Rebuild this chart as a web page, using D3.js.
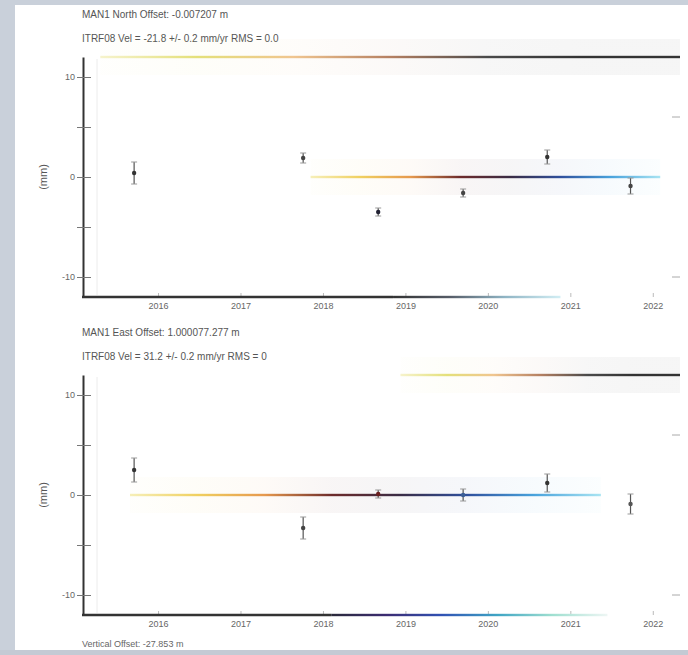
<!DOCTYPE html>
<html>
<head>
<meta charset="utf-8">
<script src="https://cdn.jsdelivr.net/npm/d3@7"></script>
<style>
  html, body { margin: 0; padding: 0; background: #c9d0da; }
  svg { display: block; }
  text { font-family: "Liberation Sans", Arial, sans-serif; }
</style>
</head>
<body>
<svg id="chart" width="688" height="655"></svg>
<script>
// Campaign epochs (decimal year) and daily-solution offsets
const epochs = [2015.71, 2017.76, 2018.67, 2019.70, 2020.72, 2021.73];
const northMm = [0.4, 1.9, -3.5, -1.6, 2.0, -0.9];
const northErr = [1.1, 0.5, 0.4, 0.4, 0.7, 0.8];
const eastMm = [2.5, -3.3, 0.1, 0.0, 1.2, -0.9];
const eastErr = [1.2, 1.1, 0.4, 0.6, 0.9, 1.0];
const northMarkerColors = ["#333", "#444", "#223", "#444", "#333", "#444"];
const eastMarkerColors = ["#333", "#444", "#6a1e1e", "#3c5f96", "#333", "#555"];

const yearTicks = [2016, 2017, 2018, 2019, 2020, 2021, 2022];
const yearLabels = ["2016", "2017", "2018", "2019", "2020", "2021", "2022"];
const mmTicks = [-10, -5, 0, 5, 10];
const mmLabels = ["-10", "", "0", "", "10"];

const northTitle = ["MAN1  North Offset:  -0.007207 m",
                    "ITRF08 Vel =  -21.8  +/-  0.2 mm/yr   RMS =  0.0"];
const eastTitle = ["MAN1  East Offset:  1.000077.277 m",
                   "ITRF08 Vel =  31.2  +/-  0.2 mm/yr   RMS =  0"];
const upTitle = "Vertical Offset:  -27.853 m";

// colour-ramped reference lines: [startYear, endYear, mm]
const northFrame = [2015.30, 2022.33, 12];
const northTrend = [2017.85, 2022.09, 0];
const northBase = [2018.85, 2020.88, -12];
const eastFrame = [2018.94, 2022.33, 12];
const eastTrend = [2015.66, 2021.37, 0];
const eastBase = [2018.10, 2021.45, -12];

const frameRamp = ["#f6f3cc", "#e4e07a", "#f0c590", "#b58062", "#4a4a4a", "#333333", "#333333"];
const trendRamp = ["#f6efb8", "#f0d060", "#e6994e", "#6d2b2b", "#3a2c44", "#2f4f9c", "#48a2dc", "#a8e4f2"];
const northBaseRamp = ["#333333", "#555b66", "#8fb4c4", "#d2eef4"];
const eastBaseRamp = ["#2a2a3a", "#3c2c72", "#3152b4", "#3ea4c4", "#9fdfd0", "#eef6f4"];

const svg = d3.select("#chart");
const defs = svg.append("defs");

// page area
svg.append("rect").attr("x", 15).attr("y", 5).attr("width", 673).attr("height", 645)
  .attr("fill", "#ffffff");

const x = d3.scaleLinear().domain([2015.09, 2022.33]).range([83, 680]);

let gradId = 0;
function ramp(colors) {
  const id = "ramp" + (gradId++);
  const g = defs.append("linearGradient").attr("id", id)
    .attr("x1", "0%").attr("x2", "100%").attr("y1", "0%").attr("y2", "0%");
  colors.forEach((c, i) => g.append("stop")
    .attr("offset", (i / (colors.length - 1) * 100) + "%").attr("stop-color", c));
  return id;
}

function rampLine(g, y, seg, colors, halo) {
  const id = ramp(colors);
  const x0 = x(seg[0]), x1 = x(seg[1]), yy = y(seg[2]);
  if (halo) {
    g.append("rect").attr("x", x0).attr("y", yy - 18).attr("width", x1 - x0).attr("height", 36)
      .attr("fill", "url(#" + id + ")").attr("opacity", 0.045);
  }
  g.append("rect").attr("x", x0).attr("y", yy - 1.2).attr("width", x1 - x0).attr("height", 2.4)
    .attr("fill", "url(#" + id + ")");
}

function panel(top, titles, vals, errs, colors, frameSeg, trendSeg, baseSeg, baseRamp) {
  const y = d3.scaleLinear().domain([-12, 12]).range([top + 240, top]);
  const g = svg.append("g");

  // titles
  g.append("text").attr("x", 82).attr("y", top - 39).attr("font-size", 10).attr("fill", "#555")
    .text(titles[0]);
  g.append("text").attr("x", 82).attr("y", top - 15).attr("font-size", 10).attr("fill", "#555")
    .text(titles[1]);

  // faint inner guide next to the axis
  g.append("line").attr("x1", 97).attr("x2", 97).attr("y1", top + 2).attr("y2", top + 238)
    .attr("stroke", "#ececec").attr("stroke-width", 1);

  rampLine(g, y, frameSeg, frameRamp, true);
  rampLine(g, y, trendSeg, trendRamp, true);

  // y axis
  const ya = g.append("g").attr("transform", "translate(83,0)")
    .call(d3.axisLeft(y).tickValues(mmTicks).tickSize(5).tickSizeOuter(0)
      .tickFormat((d, i) => mmLabels[i]));
  ya.select(".domain").attr("stroke", "#333").attr("stroke-width", 2);
  ya.selectAll(".tick line").attr("x1", 8).attr("x2", -6).attr("stroke", "#777");
  ya.selectAll(".tick text").attr("font-size", 9).attr("fill", "#666").attr("x", -8);
  g.append("text").attr("transform", `translate(47,${y(0)}) rotate(-90)`)
    .attr("text-anchor", "middle").attr("font-size", 11).attr("fill", "#555").text("(mm)");

  // x axis
  const xa = g.append("g").attr("transform", `translate(0,${y(-12)})`)
    .call(d3.axisBottom(x).tickValues(yearTicks).tickSize(-4).tickSizeOuter(0)
      .tickFormat((d, i) => yearLabels[i]));
  xa.select(".domain").attr("stroke", "none");
  xa.selectAll(".tick line").attr("stroke", "#bbb");
  xa.selectAll(".tick text").attr("font-size", 9).attr("fill", "#666").attr("dy", "0.95em");
  g.append("line").attr("x1", 82).attr("x2", x(baseSeg[0])).attr("y1", y(-12)).attr("y2", y(-12))
    .attr("stroke", "#333").attr("stroke-width", 2.4);
  rampLine(g, y, baseSeg, baseRamp, false);

  // right-edge stub ticks
  g.selectAll(".edge").data([6, -10]).enter().append("line")
    .attr("x1", 672).attr("x2", 680).attr("y1", d => y(d)).attr("y2", d => y(d))
    .attr("stroke", "#aaa");

  // error bars and markers
  const pts = epochs.map((e, i) => ({ e, v: vals[i], s: errs[i], c: colors[i] }));
  const pg = g.selectAll(".pt").data(pts).enter().append("g");
  pg.append("line").attr("x1", d => x(d.e)).attr("x2", d => x(d.e))
    .attr("y1", d => y(d.v - d.s)).attr("y2", d => y(d.v + d.s))
    .attr("stroke", "#555").attr("stroke-width", 1.2);
  pg.append("line").attr("x1", d => x(d.e) - 3).attr("x2", d => x(d.e) + 3)
    .attr("y1", d => y(d.v + d.s)).attr("y2", d => y(d.v + d.s)).attr("stroke", "#999");
  pg.append("line").attr("x1", d => x(d.e) - 3).attr("x2", d => x(d.e) + 3)
    .attr("y1", d => y(d.v - d.s)).attr("y2", d => y(d.v - d.s)).attr("stroke", "#999");
  pg.append("circle").attr("cx", d => x(d.e)).attr("cy", d => y(d.v)).attr("r", 2.2)
    .attr("fill", d => d.c);
}

panel(57, northTitle, northMm, northErr, northMarkerColors,
  northFrame, northTrend, northBase, northBaseRamp);
panel(375, eastTitle, eastMm, eastErr, eastMarkerColors,
  eastFrame, eastTrend, eastBase, eastBaseRamp);

svg.append("text").attr("x", 82).attr("y", 647).attr("font-size", 9).attr("fill", "#666")
  .text(upTitle);

// lower background band
svg.append("rect").attr("x", 0).attr("y", 650).attr("width", 688).attr("height", 5).attr("fill", "#c4cad4");
</script>
</body>
</html>
